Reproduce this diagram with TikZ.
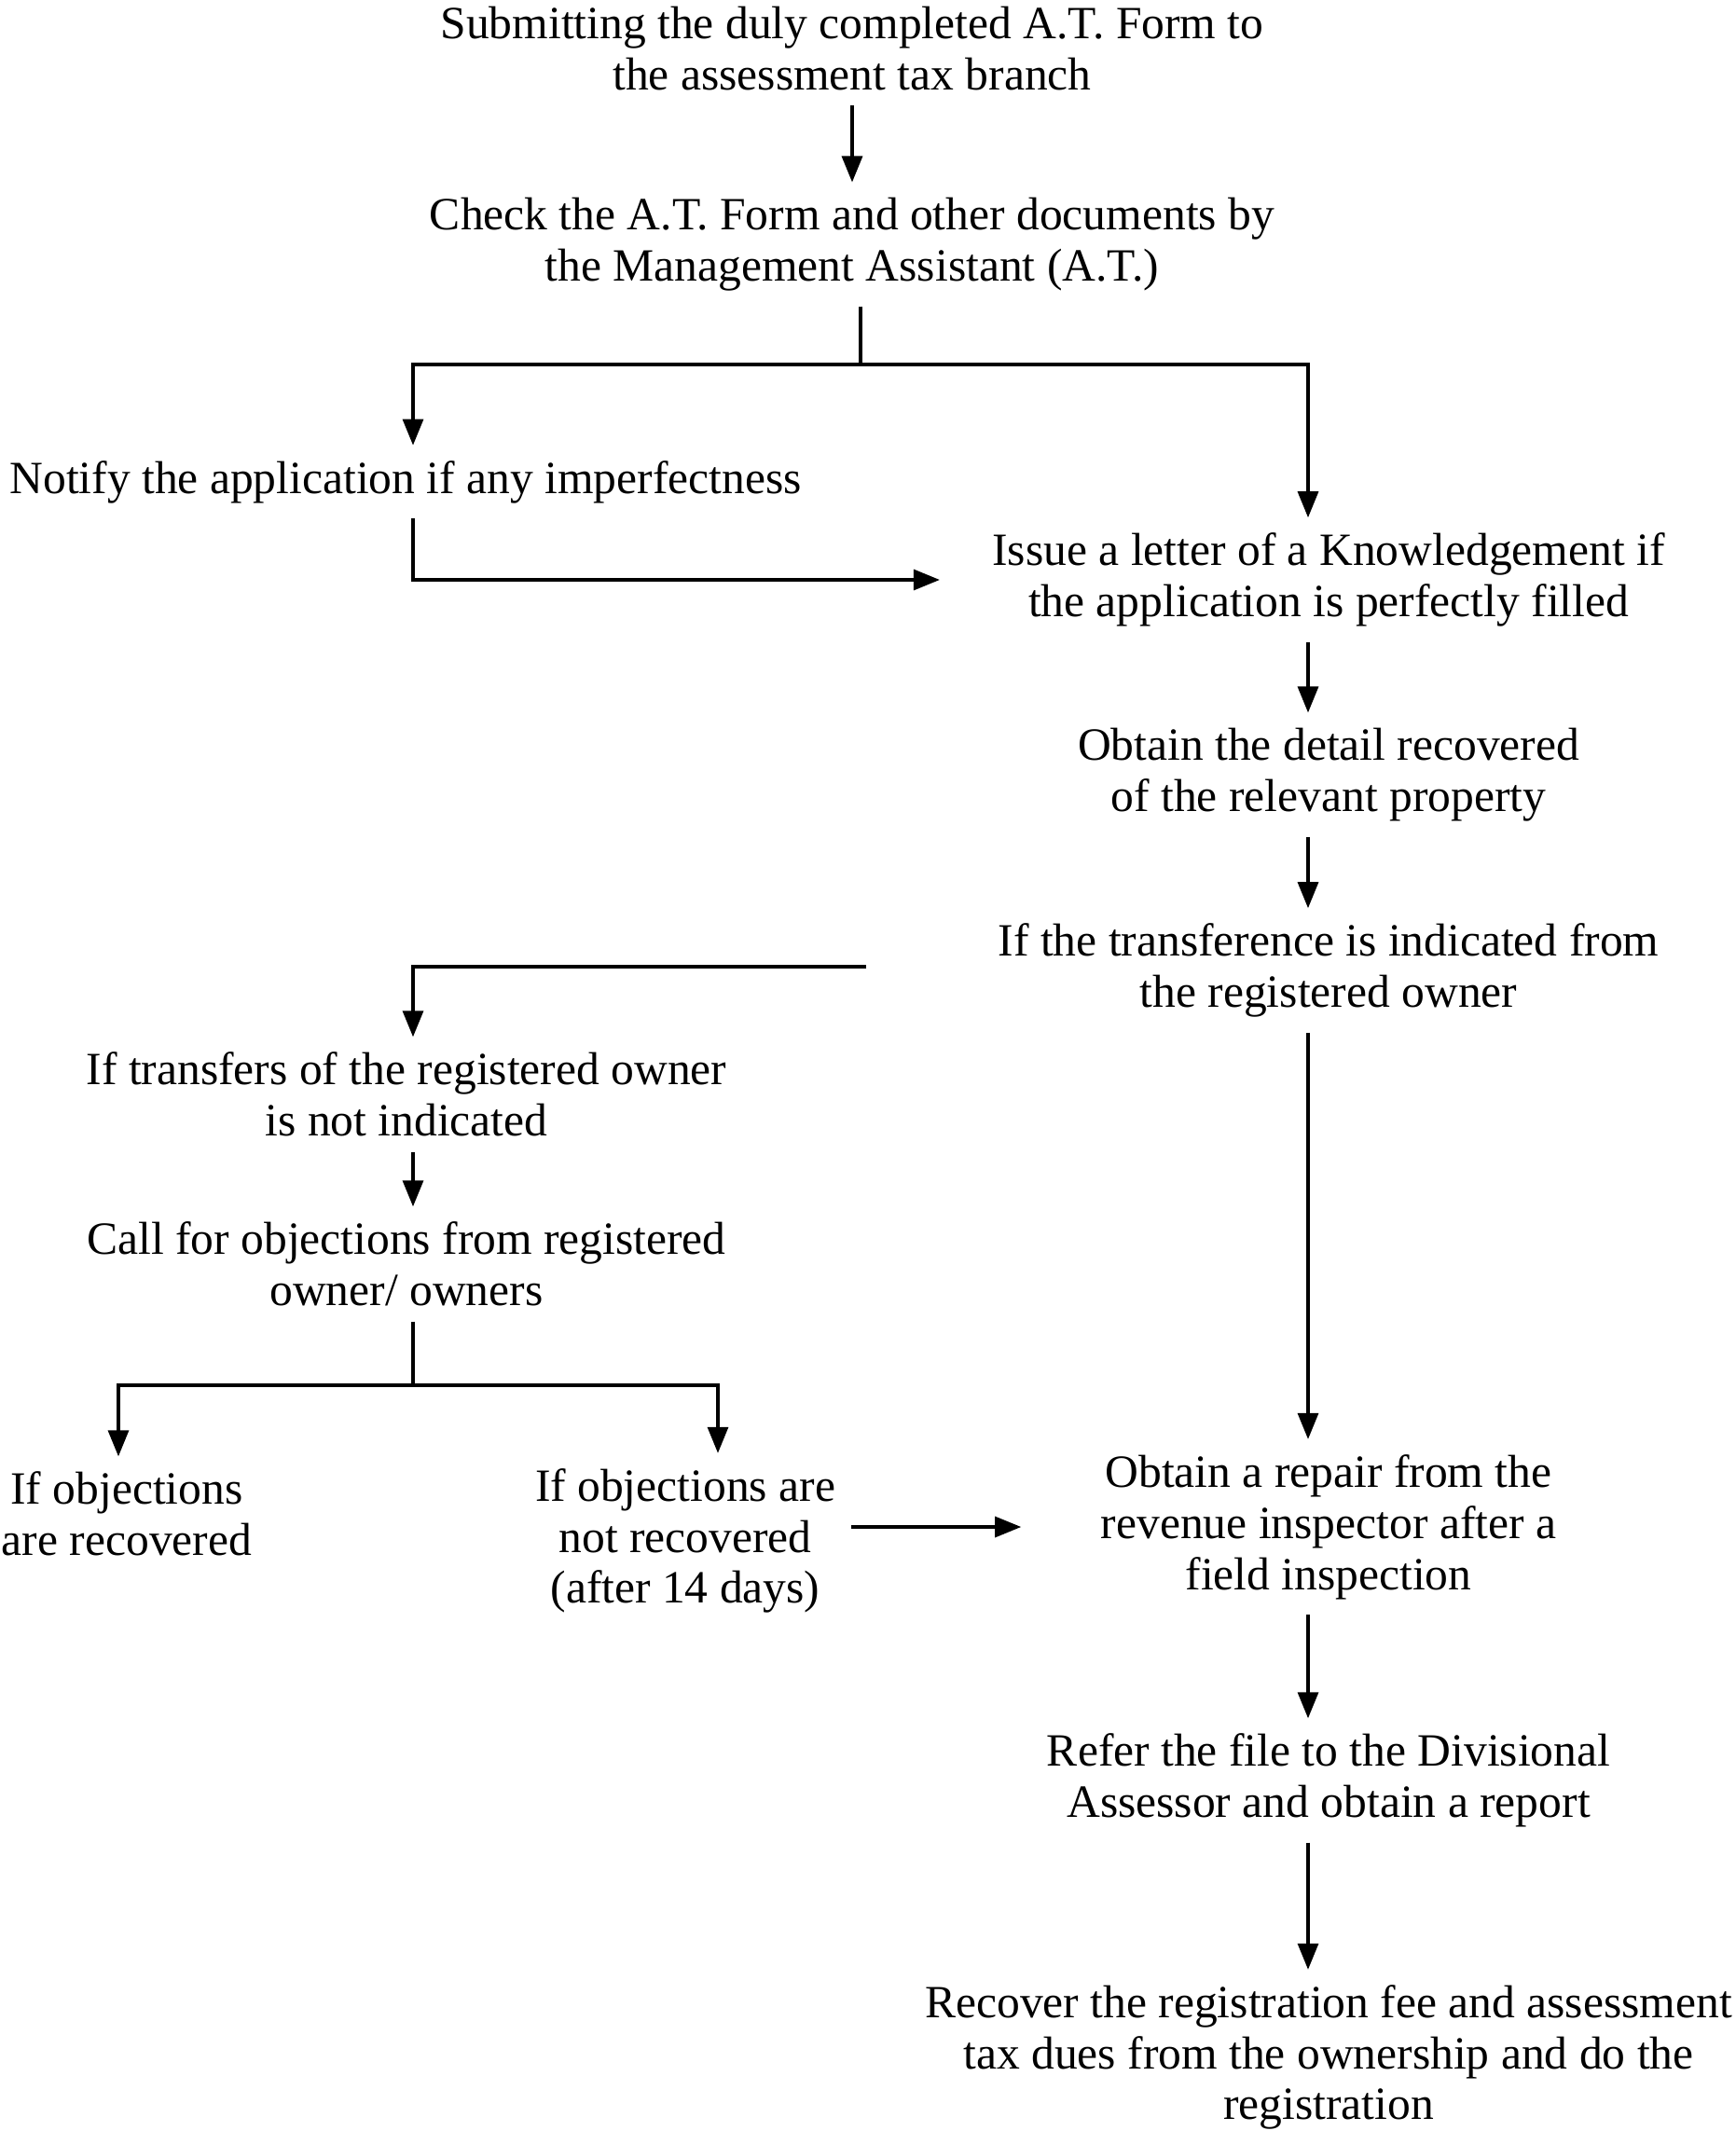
\documentclass[tikz,border=0pt]{standalone}
\usepackage{fontspec}
\setmainfont{Liberation Serif}
\usetikzlibrary{arrows.meta}

\begin{document}
\begin{tikzpicture}[line width=0.9pt,
    txt/.style={align=center, inner sep=0.15cm, font=\fontsize{14.1}{15.6}\selectfont},
    arr/.style={-{Triangle[length=2.8mm,width=2.2mm]}}]
  \useasboundingbox (0,0) rectangle (18.62,-22.86);
  % columns of the arrows
  \coordinate (cl) at (4.43,0);
  \coordinate (cr) at (14.03,0);

  \node[txt] (submit) at (9.14,-0.52) {Submitting the duly completed A.T. Form to\\the assessment tax branch};
  \node[txt] (check) at (9.14,-2.62) {Check the A.T. Form and other documents by\\the Management Assistant (A.T.)};
  \node[txt] (notify) at (4.35,-5.17) {Notify the application if any imperfectness};
  \node[txt] (issue) at (14.25,-6.22) {Issue a letter of a Knowledgement if\\the application is perfectly filled};
  \node[txt] (detail) at (14.25,-8.31) {Obtain the detail recovered\\of the relevant property};
  \node[txt] (transfer) at (14.25,-10.41) {If the transference is indicated from\\the registered owner};
  \node[txt] (nottransf) at (4.36,-11.74) {If transfers of the registered owner\\is not indicated};
  \node[txt] (callobj) at (4.36,-13.56) {Call for objections from registered\\owner/ owners};
  \node[txt] (objrec) at (1.36,-16.24) {If objections\\are recovered};
  \node[txt] (objnot) at (7.35,-16.53) {If objections are\\not recovered\\(after 14 days)};
  \node[txt] (repair) at (14.25,-16.38) {Obtain a repair from the\\revenue inspector after a\\field inspection};
  \node[txt] (refer) at (14.25,-19.10) {Refer the file to the Divisional\\Assessor and obtain a report};
  \node[txt] (recover) at (14.25,-22.07) {Recover the registration fee and assessment\\tax dues from the ownership and do the\\registration};

  \draw[arr] (submit) -- (check);
  % first split
  \coordinate (br1) at (9.23,-3.91);
  \draw (check.south -| br1) -- (br1);
  \draw[arr] (br1) -| (notify.north -| cl);
  \draw[arr] (br1) -| (issue.north -| cr);
  \draw[arr, shorten >=0.4cm] (notify.south -| cl) |- (issue.west);
  \draw[arr] (issue.south -| cr) -- (detail.north -| cr);
  \draw[arr] (detail.south -| cr) -- (transfer.north -| cr);
  % transference or not
  \coordinate (br2) at (9.29,-10.37);
  \draw[arr] (br2) -| (nottransf.north -| cl);
  \draw[arr] (transfer.south -| cr) -- (repair.north -| cr);
  \draw[arr] (nottransf.south -| cl) -- (callobj.north -| cl);
  % objections
  \coordinate (br3) at (4.43,-14.86);
  \draw (callobj.south -| cl) -- (br3);
  \draw[arr] (br3) -| ([xshift=-0.9mm]objrec.north);
  \draw[arr] (br3) -| ([xshift=3.5mm]objnot.north);
  \draw[arr, shorten >=0.69cm] (objnot.east |- repair.west) -- (repair.west);
  \draw[arr] (repair.south -| cr) -- (refer.north -| cr);
  \draw[arr] (refer.south -| cr) -- (recover.north -| cr);
\end{tikzpicture}
\end{document}
